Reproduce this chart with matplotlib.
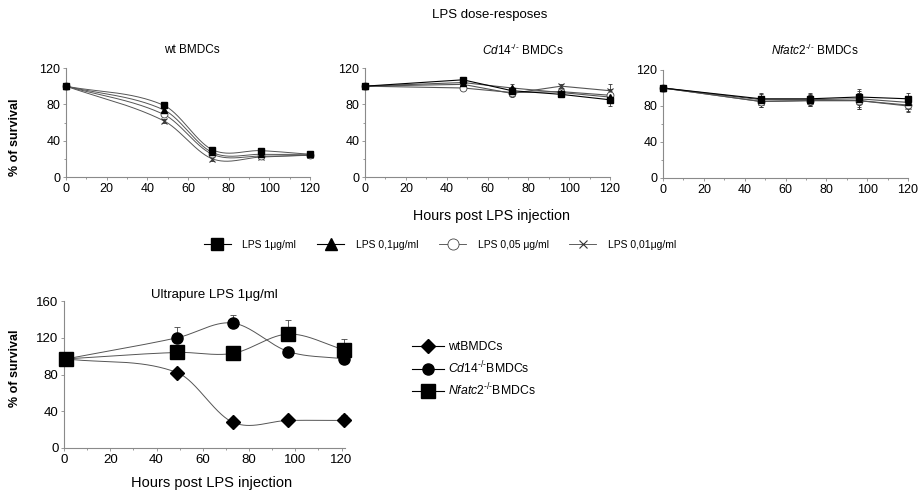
import numpy as np
import matplotlib
matplotlib.use("Agg")
import matplotlib.pyplot as plt
from matplotlib.lines import Line2D

plt.rcParams['font.family'] = ['Liberation Sans', 'DejaVu Sans']
plt.rcParams['mathtext.fontset'] = 'custom'
plt.rcParams['mathtext.rm'] = 'Liberation Sans'
plt.rcParams['mathtext.it'] = 'Liberation Sans:italic'
plt.rcParams['mathtext.bf'] = 'Liberation Sans:bold'

# ---------------- data ----------------
hours = [0, 48, 72, 96, 120]
doses = ["LPS 1\u03bcg/ml", "LPS 0,1\u03bcg/ml", "LPS 0,05 \u03bcg/ml", "LPS 0,01\u03bcg/ml"]

wt_lps1 = [100, 79, 30, 29, 25]
wt_lps01 = [100, 74, 27, 25, 25]
wt_lps005 = [100, 69, 25, 23, 24]
wt_lps001 = [100, 62, 20, 22, 24]
wt_err = [1, 2, 2, 2, 2]

cd14_lps1 = [100, 107, 95, 91, 85]
cd14_lps01 = [100, 104, 98, 93, 88]
cd14_lps005 = [100, 98, 93, 94, 90]
cd14_lps001 = [100, 102, 92, 100, 95]
cd14_err = [1, 2, 4, 2, 7]

nf_lps1 = [100, 88, 88, 90, 88]
nf_lps01 = [100, 87, 87, 88, 84]
nf_lps005 = [100, 85, 86, 86, 81]
nf_lps001 = [100, 85, 86, 86, 80]
nf_err = [1, 6, 6, 9, 7]

up_hours = [1, 49, 73, 97, 121]
up_wt = [97, 82, 28, 30, 30]
up_cd14 = [97, 120, 136, 105, 97]
up_nfatc2 = [97, 104, 103, 124, 107]
up_wt_err = [0, 2, 2, 5, 6]
up_cd14_err = [0, 12, 9, 4, 4]
up_nfatc2_err = [0, 2, 2, 15, 12]
up_labels = ["wtBMDCs", r"$\mathit{Cd14}^{\text{-/-}}$BMDCs", r"$\mathit{Nfatc2}^{\text{-/-}}$BMDCs"]


def smooth_curve(x, y, n=300):
    """Cardinal (Catmull-Rom) Hermite spline through the points."""
    x = np.asarray(x, float)
    y = np.asarray(y, float)
    k = len(x)
    m = np.zeros(k)
    m[0] = (y[1] - y[0]) / (x[1] - x[0])
    m[-1] = (y[-1] - y[-2]) / (x[-1] - x[-2])
    for i in range(1, k - 1):
        m[i] = (y[i + 1] - y[i - 1]) / (x[i + 1] - x[i - 1])
    xs_all, ys_all = [], []
    for i in range(k - 1):
        h = x[i + 1] - x[i]
        t = np.linspace(0, 1, n // (k - 1))
        h00 = 2 * t ** 3 - 3 * t ** 2 + 1
        h10 = t ** 3 - 2 * t ** 2 + t
        h01 = -2 * t ** 3 + 3 * t ** 2
        h11 = t ** 3 - t ** 2
        xs_all.append(x[i] + t * h)
        ys_all.append(h00 * y[i] + h10 * h * m[i] + h01 * y[i + 1] + h11 * h * m[i + 1])
    return np.concatenate(xs_all), np.concatenate(ys_all)


W, H = 922, 495
fig = plt.figure(figsize=(W / 100, H / 100), dpi=100)

def ax_at(l, r, t, b):
    return fig.add_axes([l / W, 1 - b / H, (r - l) / W, (b - t) / H])

line_c = '#555555'
spine_c = '#8a8a8a'

markers = [dict(marker='s', ms=5, mfc='black', mec='black'),
           dict(marker='^', ms=5, mfc='black', mec='black'),
           dict(marker='o', ms=5, mfc='white', mec='#444444', mew=0.6),
           dict(marker='x', ms=4, mfc='black', mec='#333333', mew=0.8)]


def style_axes(ax, yticks, ymax, fs):
    ax.set_xlim(0, 120)
    ax.set_ylim(0, ymax)
    ax.set_xticks([0, 20, 40, 60, 80, 100, 120])
    ax.set_yticks(yticks)
    ax.set_yticks(np.arange(0, ymax + 1, 20), minor=True)
    ax.set_xticks(np.arange(0, 121, 10), minor=True)
    for s in ['top', 'right']:
        ax.spines[s].set_visible(False)
    for s in ['left', 'bottom']:
        ax.spines[s].set_color(spine_c)
        ax.spines[s].set_linewidth(0.8)
    ax.tick_params(which='both', direction='out', length=2, width=0.6, color=spine_c,
                   labelsize=fs, pad=2)
    ax.tick_params(which='minor', length=1.5)


top_axes = [ax_at(66, 310, 68, 177), ax_at(365, 610, 68, 177), ax_at(663, 908, 70, 178)]
sets = [([wt_lps1, wt_lps01, wt_lps005, wt_lps001], wt_err, True),
        ([cd14_lps1, cd14_lps01, cd14_lps005, cd14_lps001], cd14_err, False),
        ([nf_lps1, nf_lps01, nf_lps005, nf_lps001], nf_err, False)]

for ax, (series, err, smooth) in zip(top_axes, sets):
    style_axes(ax, [0, 40, 80, 120], 120, 9)
    for i in reversed(range(4)):
        ys = series[i]
        if smooth:
            xs_s, ys_s = smooth_curve(hours, ys)
            ax.plot(xs_s, ys_s, color=line_c, lw=0.7, clip_on=False)
        else:
            ax.plot(hours, ys, color=line_c if i else 'black', lw=0.8, clip_on=False)
        ax.errorbar(hours, ys, yerr=err, fmt='none', ecolor='#333333', elinewidth=0.6,
                    capsize=1.5, capthick=0.6, clip_on=False)
        ax.plot(hours, ys, linestyle='none', clip_on=False, zorder=5, **markers[i])

fig.text(192 / W, 1 - 50 / H, "wt BMDCs", ha='center', va='center', fontsize=8.5)
fig.text(523 / W, 1 - 50 / H, r"$\mathit{Cd14}^{\text{-/-}}$ BMDCs", ha='center', va='center',
         fontsize=8.5)
fig.text(815 / W, 1 - 50 / H, r"$\mathit{Nfatc2}^{\text{-/-}}$ BMDCs", ha='center', va='center',
         fontsize=8.5)
fig.text(490 / W, 1 - 15 / H, "LPS dose-resposes", ha='center', va='center', fontsize=9.5)
fig.text(491 / W, 1 - 216 / H, "Hours post LPS injection", ha='center', va='center',
         fontsize=10.3)
fig.text(15 / W, 1 - 137 / H, "% of survival", ha='center', va='center', rotation=90,
         fontsize=9, fontweight='bold')

# top legend
handles = [Line2D([], [], color='black', lw=0.8, **dict(markers[0], ms=9)),
           Line2D([], [], color='black', lw=0.8, **dict(markers[1], ms=9)),
           Line2D([], [], color='#444444', lw=0.6, **dict(markers[2], ms=8)),
           Line2D([], [], color='#444444', lw=0.6, **dict(markers[3], ms=6))]
fig.legend(handles, doses, loc='center', bbox_to_anchor=(440 / W, 1 - 245 / H), ncol=4,
           frameon=False, fontsize=7.5, handlelength=2.6, columnspacing=2.0,
           handletextpad=1.1)

# bottom panel
axb = ax_at(64, 345, 301, 448)
style_axes(axb, [0, 40, 80, 120, 160], 160, 9.5)
axb.set_xlim(0, 121.5)
axb.set_yticks([], minor=True)
bmark = [dict(marker='D', ms=7, mfc='black', mec='black'),
         dict(marker='o', ms=8, mfc='black', mec='black'),
         dict(marker='s', ms=10, mfc='black', mec='black')]
bseries = [(up_wt, up_wt_err), (up_cd14, up_cd14_err), (up_nfatc2, up_nfatc2_err)]
for (ys, err), mk in zip(bseries, bmark):
    xs_s, ys_s = smooth_curve(up_hours, ys)
    axb.plot(xs_s, ys_s, color=line_c, lw=0.7, clip_on=False)
    axb.errorbar(up_hours, ys, yerr=[np.zeros(len(err)), err], fmt='none', ecolor='#444444',
                 elinewidth=0.6, capsize=2.5, capthick=0.6, clip_on=False)
    axb.plot(up_hours, ys, linestyle='none', clip_on=False, zorder=5, **mk)

fig.text(214 / W, 1 - 295 / H, "Ultrapure LPS 1\u03bcg/ml", ha='center', va='center',
         fontsize=9.5)
fig.text(212 / W, 1 - 483 / H, "Hours post LPS injection", ha='center', va='center',
         fontsize=10.5)
fig.text(15 / W, 1 - 368 / H, "% of survival", ha='center', va='center', rotation=90,
         fontsize=9, fontweight='bold')

bh = [Line2D([], [], color='black', lw=0.8, **bmark[0]),
      Line2D([], [], color='black', lw=0.8, **bmark[1]),
      Line2D([], [], color='black', lw=0.8, **bmark[2])]
fig.legend(bh, up_labels, loc='upper left', bbox_to_anchor=(406 / W, 1 - 335 / H),
           frameon=False, fontsize=8.8, handlelength=2.6, handletextpad=0.3,
           labelspacing=0.5, borderpad=0)

fig.savefig("out.png", dpi=100)
